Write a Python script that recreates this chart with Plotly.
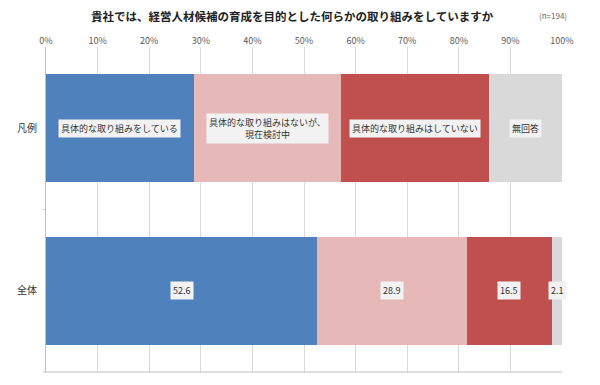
import plotly.graph_objects as go

title = "貴社では、経営人材候補の育成を目的とした何らかの取り組みをしていますか"
n_note = "(n=194)"
categories = ["全体", "凡例"]
series_names = ["具体的な取り組みをしている", "具体的な取り組みはないが、<br>現在検討中",
                "具体的な取り組みはしていない", "無回答"]
series_colors = ["#4F81BD", "#E6B9B8", "#C0504D", "#D9D9D9"]
total_values = [52.6, 28.9, 16.5, 2.1]
legend_values = [28.6, 28.6, 28.6, 14.2]
x_ticks = [0, 10, 20, 30, 40, 50, 60, 70, 80, 90, 100]
x_tick_labels = [f"{t}%" for t in x_ticks]

FONT = "Noto Sans CJK JP"
W, H = 600, 385
ML, MR, MT, MB = 46, 38, 47, 13
PW, PH = W - ML - MR, H - MT - MB

fig = go.Figure()
ypos = [0, 1]
for i, name in enumerate(series_names):
    fig.add_trace(go.Bar(
        y=ypos, x=[total_values[i], legend_values[i]], orientation="h",
        marker=dict(color=series_colors[i], line=dict(width=0)),
        width=0.665, name=name, showlegend=False, hoverinfo="skip"))

annotations = []
for row, vals, is_legend in [(0, total_values, False), (1, legend_values, True)]:
    cum = 0
    for i, v in enumerate(vals):
        text = series_names[i] if is_legend else f"{v:.1f}"
        annotations.append(dict(
            x=cum + v / 2, y=row, xref="x", yref="y", text=text, showarrow=False,
            font=dict(family=FONT, size=9, color="#333333"),
            bgcolor="#F2F2F2", borderpad=2, align="center"))
        cum += v

def px_x(px):
    return (px - ML) / PW

def px_y(py):
    return (H - MB - py) / PH

annotations += [
    dict(x=px_x(292), y=px_y(16), xref="paper", yref="paper",
         text="<b>" + title + "</b>", showarrow=False,
         font=dict(family=FONT, size=11.5, color="#222222"),
         xanchor="center", yanchor="middle"),
    dict(x=px_x(553), y=px_y(16), xref="paper", yref="paper", text=n_note,
         showarrow=False, font=dict(family=FONT, size=8, color="#666666"),
         xanchor="center", yanchor="middle"),
]

fig.update_layout(
    width=W, height=H,
    margin=dict(l=ML, r=MR, t=MT, b=MB),
    paper_bgcolor="white", plot_bgcolor="white",
    barmode="stack", bargap=0,
    font=dict(family=FONT),
    annotations=annotations,
    xaxis=dict(range=[0, 100], side="top", tickvals=x_ticks, ticktext=x_tick_labels,
               showgrid=True, gridcolor="#D9D9D9", gridwidth=1, zeroline=False,
               showline=False, ticks="", tickfont=dict(family=FONT, size=9, color="#595959"),
               automargin=False, fixedrange=True),
    yaxis=dict(range=[-0.5, 1.5], tickvals=ypos, ticktext=categories, showgrid=False,
               zeroline=False, showline=True, linecolor="#BFBFBF", linewidth=1,
               ticks="", ticklabelstandoff=6,
               tickfont=dict(family=FONT, size=10, color="#333333"),
               minor=dict(tickvals=[0.5], ticks="outside", ticklen=3, tickcolor="#D9D9D9"),
               automargin=False, fixedrange=True),
    shapes=[dict(type="line", xref="paper", yref="paper", x0=-0.006, x1=1, y0=0, y1=0,
                 line=dict(color="#BFBFBF", width=1))],
)
fig.write_html("out.html", config={"displayModeBar": False},
               post_script="document.body.style.margin='0';document.body.style.padding='0';")
